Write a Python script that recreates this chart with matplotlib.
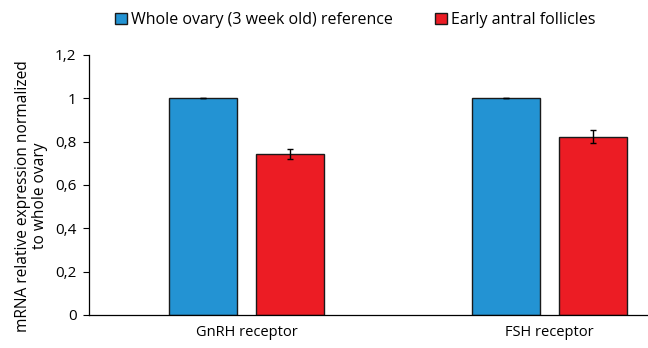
import matplotlib
matplotlib.use("Agg")
import matplotlib.pyplot as plt
import numpy as np

categories = ["GnRH receptor", "FSH receptor"]
series_names = ["Whole ovary (3 week old) reference", "Early antral follicles"]
whole_ovary = [1.0, 1.0]
whole_err = [0.0, 0.0]
early_antral = [0.743, 0.823]
early_err = [0.022, 0.03]
yticks = [0, 0.2, 0.4, 0.6, 0.8, 1.0, 1.2]
ytick_labels = ["0", "0,2", "0,4", "0,6", "0,8", "1", "1,2"]

plt.rcParams['font.family'] = ['Open Sans', 'DejaVu Sans']

fig = plt.figure(figsize=(6.48, 3.48), dpi=100)
W, H = 648, 348
left_px, right_px, bottom_px, top_px = 89, 648, 315, 55
ax = fig.add_axes([left_px / W, 1 - bottom_px / H, (right_px - left_px) / W, (bottom_px - top_px) / H])

x = np.arange(len(categories))
bw = 0.225
off = 0.1435
b1 = ax.bar(x - off, whole_ovary, bw, color="#2393d3", edgecolor="#1a1a1a", linewidth=1.0,
            yerr=whole_err, error_kw=dict(ecolor="black", capsize=2.5, elinewidth=1), label=series_names[0])
b2 = ax.bar(x + off, early_antral, bw, color="#ec1c24", edgecolor="#1a1a1a", linewidth=1.0,
            yerr=early_err, error_kw=dict(ecolor="black", capsize=2.5, elinewidth=1), label=series_names[1])

ax.set_xlim((left_px - 246.5) / 303, (right_px - 246.5) / 303)
ax.set_ylim(0, 1.2)
ax.set_yticks(yticks)
ax.set_yticklabels(ytick_labels, fontsize=11)
ax.set_xticks(x)
ax.set_xticklabels(categories, fontsize=10.5)
ax.tick_params(axis='x', length=0, pad=7)
ax.tick_params(axis='y', direction='out', length=4, width=0.8, pad=5)
for s in ["top", "right"]:
    ax.spines[s].set_visible(False)
ax.spines["left"].set_linewidth(0.9)
ax.spines["bottom"].set_linewidth(0.9)
ax.set_ylabel("mRNA relative expression normalized\nto whole ovary", fontsize=11.2,
              linespacing=1.05, multialignment='center')
ax.yaxis.set_label_coords(-0.074, 0.458)

fig.legend(handles=[b1, b2], labels=series_names, loc="center", bbox_to_anchor=(0.548, 1 - 20 / H),
           ncol=2, frameon=False, fontsize=11.5, handlelength=0.75, handleheight=0.75, handletextpad=0.25,
           columnspacing=2.6)

fig.savefig("out.png", dpi=100)
